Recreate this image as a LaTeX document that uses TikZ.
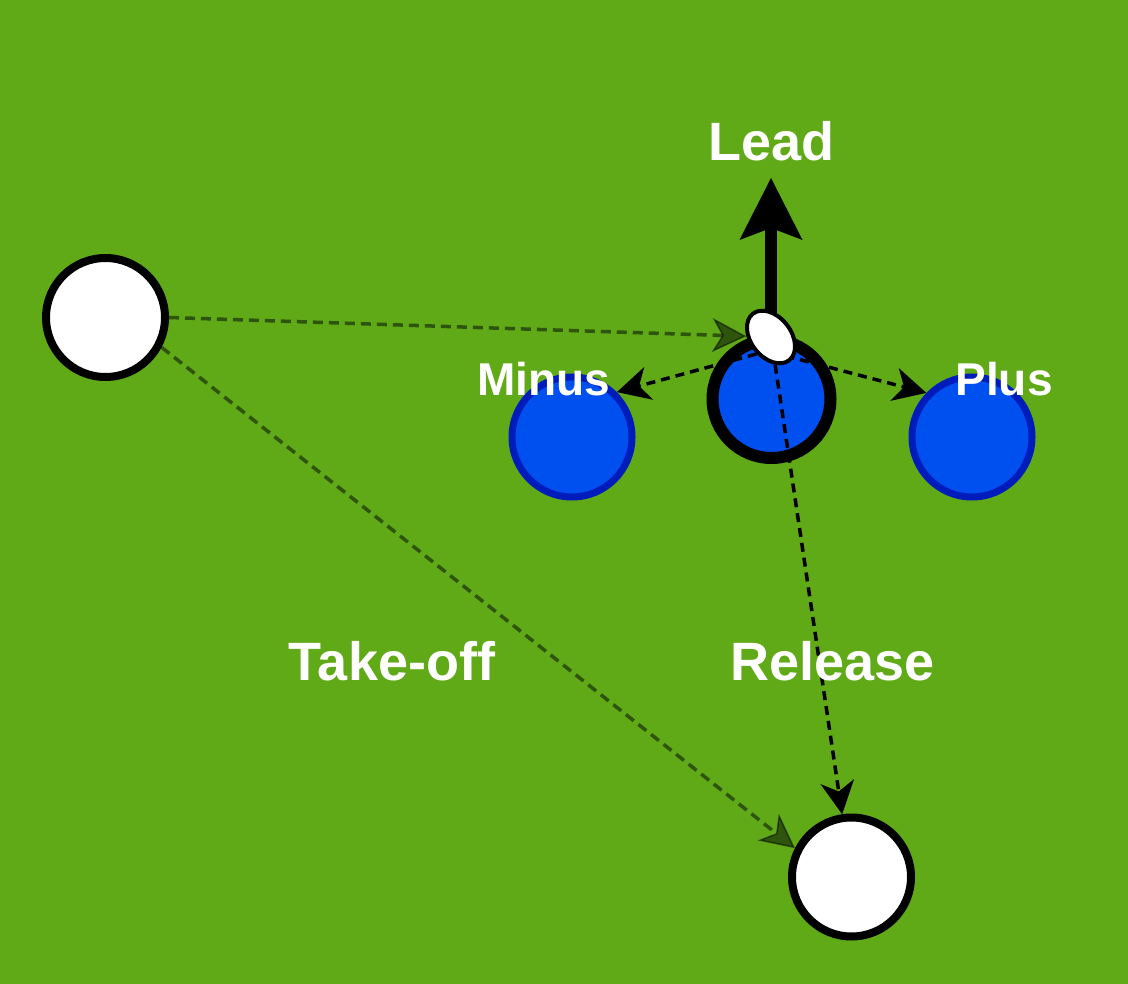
\documentclass[tikz,border=0pt]{standalone}
\usepackage{fontspec}
\setmainfont{Liberation Sans}
\usetikzlibrary{arrows.meta,shapes.geometric}
\definecolor{field}{HTML}{60A917}
\definecolor{blueF}{HTML}{0050EF}
\definecolor{blueS}{HTML}{001DBC}
\pgfdeclarelayer{back}
\pgfdeclarelayer{lines}
\pgfdeclarelayer{top}
\pgfsetlayers{back,main,lines,top}
\tikzset{
  whitec/.style={circle,draw=black,fill=white,line width=8pt,minimum size=119pt,inner sep=0pt},
  bluec/.style={circle,draw=blueS,fill=blueF,line width=7pt,minimum size=120pt,inner sep=0pt},
  centc/.style={circle,draw=black,fill=blueF,line width=12pt,minimum size=118pt,inner sep=0pt},
  ballst/.style={ellipse,draw=black,fill=white,line width=4pt,minimum width=59pt,minimum height=40pt,inner sep=0pt,rotate=-52},
  gdash/.style={draw=black,opacity=0.5,line width=3.5pt,dash pattern=on 10pt off 6pt,
    -{Stealth[length=34pt,width=34pt,inset=10pt,line width=1.5pt]}},
  bdash/.style={draw=black,line width=3.5pt,dash pattern=on 9pt off 6pt,
    -{Stealth[length=33pt,width=34pt,inset=10pt,line width=0pt]}},
  leadarr/.style={draw=black,line width=12pt,-{Stealth[length=62pt,width=63pt,inset=12pt,line width=0pt]}},
  biglab/.style={text=white,inner sep=0pt,font=\fontsize{54}{60}\selectfont\bfseries},
  smalllab/.style={text=white,inner sep=0pt,font=\fontsize{46}{52}\selectfont\bfseries},
}
\begin{document}
\begin{tikzpicture}[x=1pt,y=-1pt]
\begin{pgfonlayer}{back}
\fill[field] (0,0) rectangle (1128,984);
\end{pgfonlayer}
\useasboundingbox (0,0) rectangle (1128,984);
% players
\node[whitec] (left) at (105.5,317.5) {};
\node[whitec] (bot) at (851.5,877) {};
\node[bluec] (minus) at (572,437) {};
\node[bluec] (plus) at (972,437) {};
\node[centc] (ctr) at (771.5,399) {};
\begin{pgfonlayer}{top}
\node[ballst] (ball) at (771,337) {};
\node[biglab] (leadlab) at (771.5,141.5) {Lead};
\node[biglab] (takeofflab) at (392,661) {Take-off};
\node[biglab] (releaselab) at (832.5,661) {Release};
\node[smalllab] (minuslab) at (544,379) {Minus};
\node[smalllab] (pluslab) at (1004,379) {Plus};
\end{pgfonlayer}
\coordinate (leadtip) at (771,178);
\begin{pgfonlayer}{lines}
\draw[gdash] (left.east) -- (ball);
\draw[gdash] (left.-28) -- (bot.153);
\draw[bdash] ([yshift=-13pt]ball.center) -- (minus.45);
\draw[bdash] ([yshift=-15pt]ball.center) -- (plus.136);
\draw[bdash] (ball) -- (bot);
\draw[leadarr] (ball.center) -- (leadtip);
\end{pgfonlayer}
\end{tikzpicture}
\end{document}
